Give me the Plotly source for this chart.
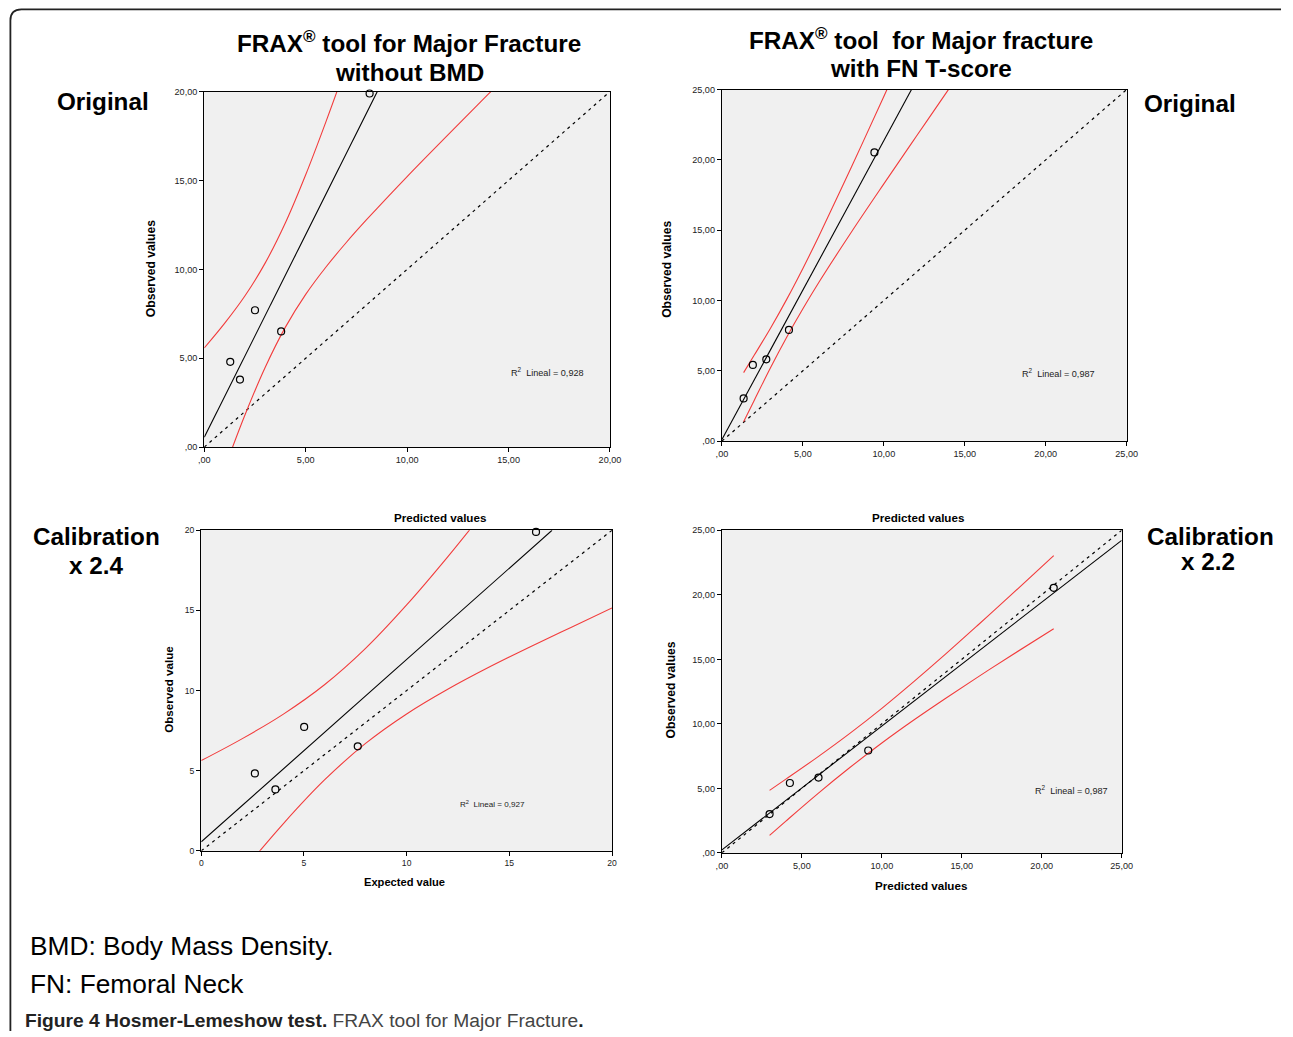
import plotly.graph_objects as go

W, H = 1293, 1037
# The photographed page comes out slightly shrunk (about 0.988 around the centre);
# target pixel positions are pre-compensated with this measured mapping.
SX, BX = 0.9875, 4.6
SY, BY = 0.9887, 4.6
K = 1.012  # matching size factor for fonts

# ---------------- data ----------------
# Panel 1: FRAX Major fracture without BMD - original
p1_expected = [1.28, 1.76, 2.50, 3.79, 8.15]
p1_observed = [4.80, 3.80, 7.70, 6.51, 19.89]
p1_fit_x = [0.0, 8.53]
p1_fit_y = [0.56, 20.0]
p1_upper_x = [0, 1, 2, 3, 4, 5, 6, 7, 8]
p1_upper_y = [5.58, 6.96, 8.50, 10.35, 12.62, 15.32, 18.31, 21.47, 24.73]
p1_lower_x = [0, 1, 2, 3, 4, 5, 6, 7, 8, 10, 12, 14, 16]
p1_lower_y = [-4.37, -1.21, 1.79, 4.48, 6.75, 8.59, 10.13, 11.51, 12.79, 15.22, 17.55, 19.85, 22.11]
p1_r2 = "0,928"

# Panel 2: FRAX Major fracture with FN T-score - original
p2_predicted = [1.34, 1.91, 2.74, 4.14, 9.42]
p2_observed = [3.04, 5.42, 5.82, 7.91, 20.53]
p2_fit_x = [0.0, 11.71]
p2_fit_y = [0.12, 25.0]
p2_upper_x = [1.34, 2, 3, 4, 5, 6, 8, 10, 11]
p2_upper_y = [4.87, 6.12, 8.03, 10.08, 12.28, 14.61, 19.49, 24.51, 27.04]
p2_lower_x = [1.34, 2, 3, 4, 5, 6, 8, 10, 12, 14, 15]
p2_lower_y = [1.38, 2.91, 5.22, 7.39, 9.41, 11.31, 14.87, 18.29, 21.66, 25.01, 26.70]
p2_r2 = "0,987"

# Panel 3: calibration x 2.4
p3_expected = [2.61, 3.61, 5.01, 7.62, 16.30]
p3_observed = [4.83, 3.83, 7.73, 6.52, 19.90]
p3_fit_x = [0.0, 17.08]
p3_fit_y = [0.56, 20.0]
p3_upper_x = [0, 2, 4, 6, 8, 10, 12, 14]
p3_upper_y = [5.63, 7.00, 8.53, 10.36, 12.63, 15.34, 18.34, 21.53]
p3_lower_x = [0, 2, 4, 6, 8, 10, 12, 14, 16, 18, 20]
p3_lower_y = [-4.50, -1.31, 1.70, 4.42, 6.70, 8.54, 10.08, 11.45, 12.72, 13.94, 15.15]
p3_r2 = "0,927"

# Panel 4: calibration x 2.2
p4_predicted = [2.98, 4.25, 6.04, 9.15, 20.75]
p4_observed = [3.00, 5.41, 5.83, 7.93, 20.54]
p4_fit_x = [0.0, 25.0]
p4_fit_y = [0.23, 24.22]
p4_band_x = [2.98, 4, 6, 8, 10, 12, 14, 16, 18, 20.75]
p4_upper_y = [4.84, 5.71, 7.44, 9.26, 11.20, 13.27, 15.42, 17.64, 19.89, 23.04]
p4_lower_y = [1.35, 2.46, 4.59, 6.61, 8.51, 10.29, 11.98, 13.62, 15.22, 17.37]
p4_r2 = "0,987"

# tick labels
ticks20 = [0, 5, 10, 15, 20]
ticks20_txt = [",00", "5,00", "10,00", "15,00", "20,00"]
ticks25 = [0, 5, 10, 15, 20, 25]
ticks25_txt = [",00", "5,00", "10,00", "15,00", "20,00", "25,00"]
ticks20_int = ["0", "5", "10", "15", "20"]

# ---------------- styling ----------------
FONT = "Liberation Sans, Arial, Helvetica, sans-serif"
RED = "#f23c3c"
BG = "#f0f0f0"


def fx(v):
    return (v - BX) / SX


def fy(v):
    return (v - BY) / SY


def px_x(v):
    return fx(v) / W


def px_y(v):
    return 1 - fy(v) / H


# plot areas in target pixels: (left, right, top, bottom)
areas = {
    1: (203, 609, 91, 446),
    2: (721, 1126, 89, 440),
    3: (200, 611, 529, 849),
    4: (721, 1121, 529, 851),
}

fig = go.Figure()


def add_panel(i, px, py, fxv, fyv, ux, uy, lx, ly, vmax):
    xa = "x" if i == 1 else f"x{i}"
    ya = "y" if i == 1 else f"y{i}"
    fig.add_trace(go.Scatter(x=[0, vmax], y=[0, vmax], mode="lines", xaxis=xa, yaxis=ya,
                             line=dict(color="#000000", width=1.2, dash="3px,4px"),
                             showlegend=False, hoverinfo="skip"))
    fig.add_trace(go.Scatter(x=ux, y=uy, mode="lines", xaxis=xa, yaxis=ya,
                             line=dict(color=RED, width=1.1, shape="spline"),
                             showlegend=False, hoverinfo="skip"))
    fig.add_trace(go.Scatter(x=lx, y=ly, mode="lines", xaxis=xa, yaxis=ya,
                             line=dict(color=RED, width=1.1, shape="spline"),
                             showlegend=False, hoverinfo="skip"))
    fig.add_trace(go.Scatter(x=fxv, y=fyv, mode="lines", xaxis=xa, yaxis=ya,
                             line=dict(color="#000000", width=1.1),
                             showlegend=False, hoverinfo="skip"))
    fig.add_trace(go.Scatter(x=px, y=py, mode="markers", xaxis=xa, yaxis=ya,
                             marker=dict(symbol="circle-open", size=7, color="#000000",
                                         line=dict(width=1.2, color="#000000")),
                             cliponaxis=False, showlegend=False))


add_panel(1, p1_expected, p1_observed, p1_fit_x, p1_fit_y, p1_upper_x, p1_upper_y,
          p1_lower_x, p1_lower_y, 20)
add_panel(2, p2_predicted, p2_observed, p2_fit_x, p2_fit_y, p2_upper_x, p2_upper_y,
          p2_lower_x, p2_lower_y, 25)
add_panel(3, p3_expected, p3_observed, p3_fit_x, p3_fit_y, p3_upper_x, p3_upper_y,
          p3_lower_x, p3_lower_y, 20)
add_panel(4, p4_predicted, p4_observed, p4_fit_x, p4_fit_y, p4_band_x, p4_upper_y,
          p4_band_x, p4_lower_y, 25)


def axis_common(vals, txt, vmax, size=9):
    return dict(range=[0, vmax], tickvals=vals, ticktext=txt, showgrid=False, zeroline=False,
                showline=True, linecolor="#000000", linewidth=1.3, mirror=True,
                ticks="outside", ticklen=4, tickwidth=1, tickcolor="#000000",
                tickfont=dict(family=FONT, size=size * K, color="#222222"), fixedrange=True)


layout_axes = {}
specs = {1: (ticks20, ticks20_txt, 20, 9), 2: (ticks25, ticks25_txt, 25, 9),
         3: (ticks20, ticks20_int, 20, 8.5), 4: (ticks25, ticks25_txt, 25, 9)}
for i, (l, r, t, b) in areas.items():
    vals, txt, vmax, fs = specs[i]
    xn = "xaxis" if i == 1 else f"xaxis{i}"
    yn = "yaxis" if i == 1 else f"yaxis{i}"
    xa = dict(axis_common(vals, txt, vmax, fs))
    xa.update(domain=[px_x(l), px_x(r)], anchor="y" if i == 1 else f"y{i}")
    ya = dict(axis_common(vals, txt, vmax, fs))
    ya.update(domain=[px_y(b), px_y(t)], anchor="x" if i == 1 else f"x{i}")
    layout_axes[xn] = xa
    layout_axes[yn] = ya

fig.update_layout(**layout_axes)

shapes = []
for i, (l, r, t, b) in areas.items():
    shapes.append(dict(type="rect", xref="paper", yref="paper", layer="below",
                       x0=px_x(l), x1=px_x(r), y0=px_y(b), y1=px_y(t),
                       fillcolor=BG, line=dict(width=0)))

# outer rounded frame (left and top edges), kept inside the figure box
right_end = min(1283.0, BX + SX * (W - 1))
bottom_end = BY + SY * (H - 1)
frame = (f"M {px_x(9)},{px_y(bottom_end)} L {px_x(9)},{px_y(20)} "
         f"Q {px_x(9)},{px_y(9)} {px_x(20)},{px_y(9)} "
         f"L {px_x(right_end)},{px_y(9)}")
shapes.append(dict(type="path", xref="paper", yref="paper", path=frame,
                   line=dict(color="#222222", width=1.8)))

ann = []


def text(x, y, s, size, bold=True, angle=0, xanchor="center", yanchor="middle",
         color="#000000", family=FONT, height=None):
    d = dict(x=px_x(x), y=px_y(y), xref="paper", yref="paper",
             text=(f"<b>{s}</b>" if bold else s),
             showarrow=False, xanchor=xanchor, yanchor=yanchor, textangle=angle,
             font=dict(family=family, size=size * K, color=color))
    if height is not None:
        d["height"] = height
    ann.append(d)


# headings
text(408, 42, "FRAX<sup>®</sup> tool for Major Fracture", 24)
text(408, 72, "without BMD", 24)
text(920, 39, "FRAX<sup>®</sup> tool \u00a0for Major fracture", 24)
text(920, 68, "with FN T-score", 24)
text(102, 101, "Original", 24)
text(1189, 103, "Original", 24)
text(95, 535, "Calibration", 24)
text(95, 564, "x 2.4", 24)
text(1210, 535, "Calibration", 24, height=24)
text(1207, 560, "x 2.2", 24, height=24)

# axis titles
text(150, 268, "Observed values", 12, angle=-90)
text(666, 268, "Observed values", 12, angle=-90)
text(167, 688, "Observed value", 11.5, angle=-90)
text(670, 688, "Observed values", 12, angle=-90)
text(439, 516, "Predicted values", 11.5)
text(917, 516, "Predicted values", 11.5)
text(403, 880, "Expected value", 11)
text(920, 884, "Predicted values", 11.5)

# R^2 notes
text(546, 371, f"R<sup>2</sup>  Lineal = {p1_r2}", 9, bold=False, color="#222222")
text(1058, 372, f"R<sup>2</sup>  Lineal = {p2_r2}", 9, bold=False, color="#222222")
text(491, 802, f"R<sup>2</sup>  Lineal = {p3_r2}", 8, bold=False, color="#222222")
text(1071, 788, f"R<sup>2</sup>  Lineal = {p4_r2}", 9, bold=False, color="#222222")

# footnotes
text(27, 944, "BMD: Body Mass Density.", 26, bold=False, xanchor="left")
text(27, 982, "FN: Femoral Neck", 26, bold=False, xanchor="left")
text(22, 1018, "<b>Figure 4 Hosmer-Lemeshow test.</b> <span style='color:#444444'>FRAX tool for Major Fracture</span><b>.</b>",
     19, bold=False, xanchor="left", color="#222222",
     family="Liberation Sans Narrow, Liberation Sans, Arial, sans-serif")

fig.update_layout(width=W, height=H, autosize=False, margin=dict(l=0, r=0, t=0, b=0),
                  paper_bgcolor="#ffffff", plot_bgcolor=BG, showlegend=False,
                  shapes=shapes, annotations=ann)

fig.write_html("out.html", include_plotlyjs=True, full_html=True,
               config={"displayModeBar": False},
               post_script="document.body.style.margin='0';")
